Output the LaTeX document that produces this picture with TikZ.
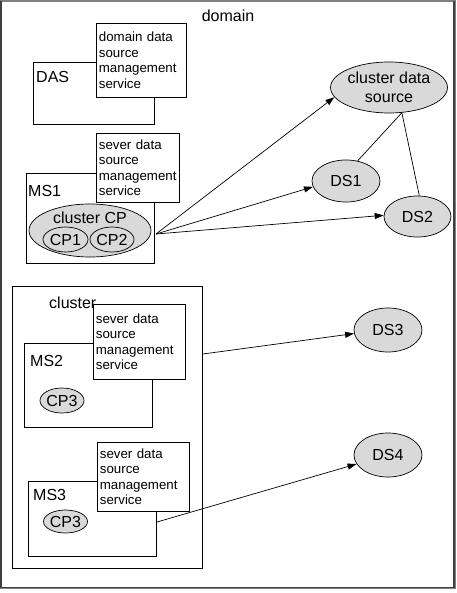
\documentclass[tikz,border=0pt]{standalone}
\usepackage{fontspec}
\setmainfont{Liberation Sans}
\usetikzlibrary{shapes.geometric,arrows.meta}
\begin{document}
\begin{tikzpicture}[x=1pt,y=-1pt,
  box/.style={draw=black,line width=0.8pt,fill=white,rectangle,anchor=north west,inner sep=0pt},
  txtbox/.style={draw=black,line width=0.8pt,fill=white,rectangle,anchor=north west,
     inner xsep=2.5pt,inner ysep=0pt,align=left,font=\fontsize{13.3}{15.5}\selectfont},
  ell/.style={draw=black,line width=0.7pt,fill=black!15,ellipse,inner sep=0pt},
  lbl/.style={inner sep=0pt,font=\fontsize{16}{19}\selectfont},
  arr/.style={line width=0.7pt,-{Triangle[length=9pt,width=6pt]}},
  ln/.style={line width=0.7pt}]
\useasboundingbox (0,0) rectangle (456,593);
% outer frame
\draw[black!50,line width=2pt] (1,1) rectangle (455,588);
\draw[black!75,line width=1.2pt] (1,1) -- (1,587.5) -- (454,587.5) -- (454,1);
\node[lbl,anchor=base] (domlbl) at (228,22) {domain};
% boxes
\node[box,minimum width=190pt,minimum height=282pt] (clu) at (12,286) {};
\node[box,minimum width=121pt,minimum height=62pt] (das) at (33,62) {};
\node[box,minimum width=128pt,minimum height=90pt] (ms1) at (26,173) {};
\node[box,minimum width=128pt,minimum height=84pt] (ms2) at (24,343) {};
\node[box,minimum width=128pt,minimum height=75pt] (ms3) at (28,481) {};
\node[lbl,anchor=base west] (cluLbl) at (49,308) {cluster};
\node[txtbox,text width=85pt,minimum height=74pt] (dsm) at (96,23) {domain data\\source\\management\\service};
\node[txtbox,text width=78pt,minimum height=69pt] (ssm1) at (96,133) {sever data\\source\\management\\service};
\node[txtbox,text width=87pt,minimum height=75pt] (ssm2) at (93,304) {sever data\\source\\management\\service};
\node[txtbox,text width=87pt,minimum height=69pt] (ssm3) at (97,442) {sever data\\source\\management\\service};
\node[lbl,anchor=base west] (dasLbl) at (36,83) {DAS};
\node[lbl,anchor=base west] (ms1Lbl) at (28,197) {MS1};
\node[lbl,anchor=base west] (ms2Lbl) at (30,366) {MS2};
\node[lbl,anchor=base west] (ms3Lbl) at (33,500) {MS3};
% ellipses
\node[ell,minimum width=122pt,minimum height=53pt] (ccp) at (90,230.5) {};
\node[lbl] (ccpLbl) at (90,218) {cluster CP};
\node[ell,minimum width=45pt,minimum height=25pt,lbl,draw=black,fill=black!15,line width=0.7pt] (cp1) at (65.5,239.5) {CP1};
\node[ell,minimum width=42pt,minimum height=25pt,lbl,draw=black,fill=black!15,line width=0.7pt] (cp2) at (112,239.5) {CP2};
\node[ell,minimum width=44pt,minimum height=25pt,lbl,draw=black,fill=black!15,line width=0.7pt] (cp3a) at (62,400.5) {CP3};
\node[ell,minimum width=42pt,minimum height=23pt,lbl,draw=black,fill=black!15,line width=0.7pt] (cp3b) at (65.5,521.5) {CP3};
\node[ell,minimum width=104pt,minimum height=51pt,align=center,font=\fontsize{16}{19}\selectfont] (cds) at (389,87.5) {cluster data\\source};
\node[ell,minimum width=68pt,minimum height=42pt,font=\fontsize{16}{19}\selectfont] (ds1) at (346,181) {DS1};
\node[ell,minimum width=67pt,minimum height=41pt,font=\fontsize{16}{19}\selectfont] (ds2) at (417.5,216.5) {DS2};
\node[ell,minimum width=68pt,minimum height=44pt,font=\fontsize{16}{19}\selectfont] (ds3) at (388,330) {DS3};
\node[ell,minimum width=68pt,minimum height=44pt,font=\fontsize{16}{19}\selectfont] (ds4) at (388,455) {DS4};
% connectors
\coordinate (s1) at (156,234);
\coordinate (s3) at (203,354);
\coordinate (s4) at (157,522);
\draw[arr] (s1) -- (cds.190);
\draw[arr] (s1) -- (ds1.190);
\draw[arr] (s1) -- (ds2.178);
\draw[arr] (s3) -- (ds3.186);
\draw[arr] (s4) -- (ds4.196);
\draw[ln] (cds.-63) -- (ds1.60);
\draw[ln] (cds.-63) -- (ds2.85);
\end{tikzpicture}
\end{document}
